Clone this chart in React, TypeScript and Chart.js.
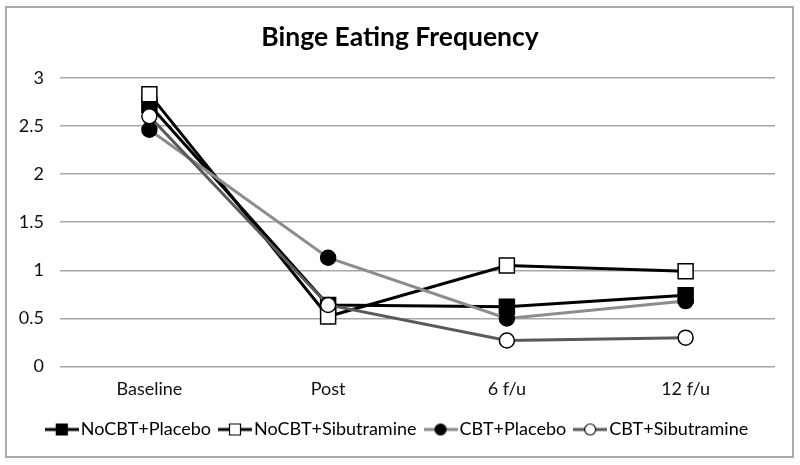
import React, { useEffect, useRef } from 'react';
import { Chart, registerables } from 'chart.js';

Chart.register(...registerables);

const categories = ['Baseline', 'Post', '6 f/u', '12 f/u'];
const seriesNames = ['NoCBT+Placebo', 'NoCBT+Sibutramine', 'CBT+Placebo', 'CBT+Sibutramine'];
const noCbtPlacebo = [2.72, 0.64, 0.62, 0.74];
const noCbtSibutramine = [2.83, 0.52, 1.05, 0.99];
const cbtPlacebo = [2.46, 1.13, 0.5, 0.68];
const cbtSibutramine = [2.6, 0.64, 0.27, 0.3];
const yTicks = [0, 0.5, 1, 1.5, 2, 2.5, 3];
const yTickLabels = ['0', '0.5', '1', '1.5', '2', '2.5', '3'];

const FONT = 'Lato, "Open Sans", "Noto Sans", sans-serif';

const seriesStyles = [
  { line: '#000000', fill: '#000000', shape: 'rect' },
  { line: '#000000', fill: '#ffffff', shape: 'rect' },
  { line: '#8c8c8c', fill: '#000000', shape: 'circle' },
  { line: '#595959', fill: '#ffffff', shape: 'circle' },
];

function makeSymbol(style: { line: string; fill: string; shape: string }) {
  const c = document.createElement('canvas');
  c.width = 34;
  c.height = 14;
  const ctx = c.getContext('2d')!;
  ctx.strokeStyle = style.line;
  ctx.lineWidth = 3;
  ctx.beginPath();
  ctx.moveTo(0, 7);
  ctx.lineTo(34, 7);
  ctx.stroke();
  ctx.fillStyle = style.fill;
  ctx.strokeStyle = '#000000';
  ctx.lineWidth = 1.2;
  ctx.beginPath();
  if (style.shape === 'rect') {
    ctx.rect(11.5, 1.5, 11, 11);
  } else {
    ctx.arc(17, 7, 5.5, 0, Math.PI * 2);
  }
  ctx.fill();
  ctx.stroke();
  return c;
}

const borderPlugin = {
  id: 'outerBorder',
  beforeDraw(chart: any) {
    const ctx = chart.ctx;
    ctx.save();
    ctx.fillStyle = '#ffffff';
    ctx.fillRect(0, 0, chart.width, chart.height);
    ctx.strokeStyle = '#ababab';
    ctx.lineWidth = 2;
    ctx.strokeRect(6, 7, 787, 450);
    ctx.restore();
  },
};

export default function App() {
  const ref = useRef<HTMLCanvasElement>(null);

  useEffect(() => {
    if (!ref.current) return;
    const seriesValues = [noCbtPlacebo, noCbtSibutramine, cbtPlacebo, cbtSibutramine];
    const symbols = seriesStyles.map(makeSymbol);
    const chart = new Chart(ref.current, {
      type: 'line',
      data: {
        labels: categories,
        datasets: seriesValues.map((vals, i) => ({
          label: seriesNames[i],
          data: vals,
          yAxisID: 'y',
          borderColor: seriesStyles[i].line,
          borderWidth: 3,
          pointStyle: seriesStyles[i].shape as any,
          pointRadius: seriesStyles[i].shape === 'rect' ? 10.6 : 7.5,
          pointBackgroundColor: seriesStyles[i].fill,
          pointBorderColor: '#000000',
          pointBorderWidth: 1.5,
          tension: 0,
          order: 4 - i,
        })),
      },
      options: {
        animation: false,
        responsive: false,
        layout: { padding: { left: 0, right: 0, top: 0, bottom: 16.5 } },
        plugins: {
          tooltip: { enabled: false },
          title: {
            display: true,
            text: 'Binge Eating Frequency',
            color: '#000000',
            font: { family: FONT, size: 26.5, weight: 'bold' },
            padding: { top: 22, bottom: 24 },
          },
          legend: {
            position: 'bottom',
            labels: {
              usePointStyle: true,
              pointStyleWidth: 20,
              boxHeight: 14,
              padding: 14,
              color: '#000000',
              font: { family: FONT, size: 18 },
              generateLabels: (ch: any) =>
                ch.data.datasets.map((ds: any, i: number) => ({
                  text: ds.label,
                  pointStyle: symbols[i],
                  fillStyle: seriesStyles[i].fill,
                  strokeStyle: seriesStyles[i].line,
                  lineWidth: 0,
                  hidden: false,
                  datasetIndex: i,
                  fontColor: '#000000',
                })),
            },
          },
        },
        scales: {
          x: {
            type: 'category',
            offset: true,
            afterFit: (s: any) => {
              s.height = 40;
            },
            grid: { display: false, drawTicks: false },
            border: { display: false },
            ticks: { color: '#111111', font: { family: FONT, size: 18 }, padding: 12 },
          },
          y: {
            position: 'left',
            min: 0,
            max: 3,
            afterFit: (s: any) => {
              s.width = 60;
            },
            afterBuildTicks: (s: any) => {
              s.ticks = yTicks.map((v) => ({ value: v }));
            },
            grid: { color: '#a8a8a8', lineWidth: 1.5, drawTicks: false },
            border: { display: false },
            ticks: {
              color: '#111111',
              font: { family: FONT, size: 18 },
              padding: 16,
              callback: (v: any) => yTickLabels[yTicks.indexOf(Number(v))] ?? String(v),
            },
          },
          yRight: {
            position: 'right',
            display: true,
            afterFit: (s: any) => {
              s.width = 25;
            },
            grid: { display: false, drawTicks: false },
            border: { display: false },
            ticks: { display: false },
          },
        },
      },
      plugins: [borderPlugin],
    });
    return () => chart.destroy();
  }, []);

  return (
    <div style={{ position: 'absolute', left: 0, top: 0, width: 800, height: 465 }}>
      <canvas ref={ref} width={800} height={465} />
    </div>
  );
}
